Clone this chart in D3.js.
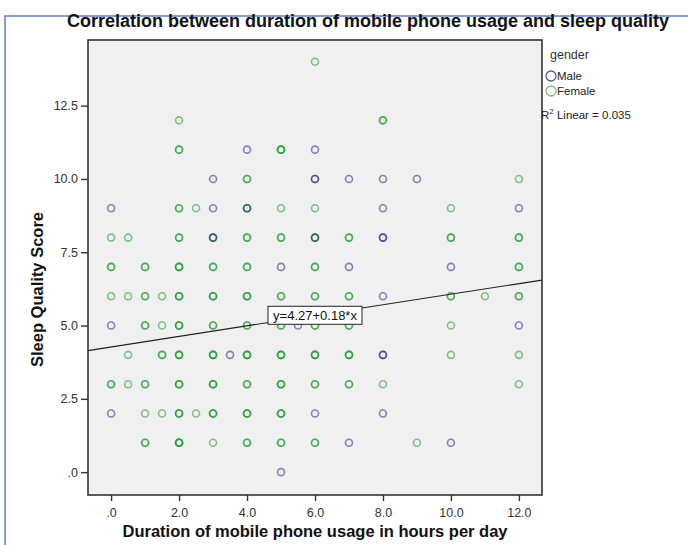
<!DOCTYPE html>
<html>
<head>
<meta charset="utf-8">
<script src="https://cdn.jsdelivr.net/npm/d3@7"></script>
<style>
  body { margin: 0; background: #fff; }
  svg { font-family: "Liberation Sans", Arial, sans-serif; }
</style>
</head>
<body>
<svg id="chart" width="688" height="545"></svg>
<script>
// --- data (repeated points = overlapping cases) ---
const maleX = [0, 0, 0, 3, 3, 3, 3.5, 4, 4, 5, 5, 5.5, 6, 6, 6, 6, 6, 7, 7, 7, 8, 8, 8, 8, 8, 8, 8, 8, 9, 10, 10, 12, 12];
const maleY = [9, 5, 2, 10, 9, 8, 4, 11, 9, 7, 0, 5, 11, 10, 10, 8, 2, 10, 7, 1, 10, 9, 8, 8, 6, 4, 4, 2, 10, 7, 1, 9, 5];

const femaleX = [
  0, 0, 0, 0, 0, 0,
  0.5, 0.5, 0.5, 0.5,
  1, 1, 1, 1, 1, 1, 1, 1, 1, 1, 1,
  1.5, 1.5, 1.5, 1.5, 1.5,
  2, 2, 2, 2, 2, 2, 2, 2, 2, 2, 2, 2, 2, 2, 2, 2, 2, 2, 2, 2, 2, 2, 2, 2, 2, 2, 2, 2, 2,
  2.5, 2.5,
  3, 3, 3, 3, 3, 3, 3, 3, 3, 3, 3, 3, 3, 3, 3, 3, 3, 3, 3,
  4, 4, 4, 4, 4, 4, 4, 4, 4, 4, 4, 4, 4, 4, 4, 4, 4, 4, 4, 4, 4, 4, 4,
  5, 5, 5, 5, 5, 5, 5, 5, 5, 5, 5, 5, 5, 5, 5, 5, 5, 5, 5, 5, 5,
  6, 6, 6, 6, 6, 6, 6, 6, 6, 6, 6, 6, 6, 6, 6, 6, 6,
  7, 7, 7, 7, 7, 7, 7, 7, 7, 7, 7,
  8, 8, 8,
  9,
  10, 10, 10, 10, 10, 10, 10,
  11,
  12, 12, 12, 12, 12, 12, 12, 12, 12
];
const femaleY = [
  8, 7, 7, 6, 3, 3,
  8, 6, 4, 3,
  7, 7, 6, 6, 5, 5, 3, 3, 2, 1, 1,
  6, 5, 4, 4, 2,
  12, 11, 11, 9, 9, 8, 8, 7, 7, 7, 6, 6, 6, 5, 5, 5, 4, 4, 4, 3, 3, 3, 2, 2, 2, 1, 1, 1, 1,
  9, 2,
  8, 8, 7, 7, 6, 6, 6, 5, 5, 4, 4, 4, 3, 3, 3, 2, 2, 2, 1,
  10, 10, 9, 9, 8, 8, 7, 7, 6, 6, 6, 5, 5, 4, 4, 4, 3, 3, 2, 2, 2, 1, 1,
  11, 11, 11, 9, 8, 8, 6, 6, 5, 5, 4, 4, 4, 3, 3, 3, 2, 2, 2, 1, 1,
  14, 9, 8, 8, 7, 7, 6, 6, 5, 5, 4, 4, 4, 3, 3, 1, 1,
  8, 8, 6, 6, 5, 5, 4, 4, 4, 3, 3,
  12, 12, 3,
  1,
  9, 8, 8, 6, 6, 5, 4,
  6,
  10, 8, 8, 7, 7, 6, 6, 4, 3
];

const fit = { a: 4.27, b: 0.18, r2: 0.035 };
const xTicks = [0, 2, 4, 6, 8, 10, 12];
const yTicks = [0, 2.5, 5, 7.5, 10, 12.5];
const genders = ["Male", "Female"];

const male = maleX.map((x, i) => ({ x, y: maleY[i] }));
const female = femaleX.map((x, i) => ({ x, y: femaleY[i] }));

const svg = d3.select("#chart");
const colMale = "#26268a", colFemale = "#1e9a2e";

// outer blue frame
svg.append("rect").attr("x", 5).attr("y", 16).attr("width", 700).attr("height", 560)
  .attr("fill", "none").attr("stroke", "#5b80c8").attr("stroke-width", 1.5);

const plot = { left: 88, right: 542, top: 40, bottom: 495 };
const x = d3.scaleLinear().domain([-0.68, 12.68]).range([plot.left, plot.right]);
const y = d3.scaleLinear().domain([-0.78, 14.74]).range([plot.bottom, plot.top]);

// title
svg.append("text").attr("x", 368).attr("y", 27).attr("text-anchor", "middle")
  .attr("font-size", 18).attr("font-weight", "bold").attr("fill", "#111")
  .text("Correlation between duration of mobile phone usage and sleep quality");

// plot background
svg.append("rect").attr("x", plot.left).attr("y", plot.top)
  .attr("width", plot.right - plot.left).attr("height", plot.bottom - plot.top)
  .attr("fill", "#f0f0f0");

const g = svg.append("g");

// points
function drawPts(pts, col) {
  g.selectAll(null).data(pts).join("circle")
    .attr("cx", d => x(d.x)).attr("cy", d => y(d.y)).attr("r", 3.5)
    .attr("fill", "none").attr("stroke", col).attr("stroke-width", 1.6)
    .attr("stroke-opacity", 0.55);
}
drawPts(female, colFemale);
drawPts(male, colMale);

// regression line
const [x0, x1] = x.domain();
g.append("line")
  .attr("x1", x(x0)).attr("y1", y(fit.a + fit.b * x0))
  .attr("x2", x(x1)).attr("y2", y(fit.a + fit.b * x1))
  .attr("stroke", "#222").attr("stroke-width", 1.2);

// equation label
const lab = g.append("g").attr("transform", `translate(${x(6)},${y(fit.a + fit.b * 6)})`);
lab.append("rect").attr("x", -47).attr("y", -9).attr("width", 94).attr("height", 18)
  .attr("fill", "#fff").attr("stroke", "#222").attr("stroke-width", 1);
lab.append("text").attr("x", 0).attr("y", 4.5).attr("text-anchor", "middle")
  .attr("font-size", 13).attr("fill", "#111")
  .text(`y=${fit.a}+${fit.b}*x`);

// frame
svg.append("rect").attr("x", plot.left).attr("y", plot.top)
  .attr("width", plot.right - plot.left).attr("height", plot.bottom - plot.top)
  .attr("fill", "none").attr("stroke", "#333").attr("stroke-width", 1.6);

// axes
const fmt = v => { const s = d3.format(".1f")(v); return s.startsWith("0") ? s.slice(1) : s; };
const ax = svg.append("g").attr("transform", `translate(0,${plot.bottom})`)
  .call(d3.axisBottom(x).tickValues(xTicks).tickFormat(fmt).tickSize(6).tickSizeOuter(0));
const ay = svg.append("g").attr("transform", `translate(${plot.left},0)`)
  .call(d3.axisLeft(y).tickValues(yTicks).tickFormat(fmt).tickSize(7).tickSizeOuter(0));
[ax, ay].forEach(a => {
  a.select(".domain").remove();
  a.selectAll("line").attr("stroke", "#333").attr("stroke-width", 1.4);
  a.selectAll("text").attr("font-size", 12.5).attr("fill", "#333")
    .attr("font-family", "'Liberation Sans', Arial, sans-serif");
});
ax.selectAll("text").attr("dy", "1.05em");

// axis titles
svg.append("text").attr("x", (plot.left + plot.right) / 2).attr("y", 537)
  .attr("text-anchor", "middle").attr("font-size", 16.5).attr("font-weight", "bold").attr("fill", "#111")
  .text("Duration of mobile phone usage in hours per day");
svg.append("text").attr("transform", `translate(43,${(plot.top + plot.bottom) / 2 + 22}) rotate(-90)`)
  .attr("text-anchor", "middle").attr("font-size", 16.5).attr("font-weight", "bold").attr("fill", "#111")
  .text("Sleep Quality Score");

// legend
const leg = svg.append("g").attr("transform", "translate(546,0)");
leg.append("text").attr("x", 4).attr("y", 59).attr("font-size", 12.5).attr("fill", "#333").text("gender");
const legCols = ["#4c5c90", "#7dbd7d"];
genders.forEach((k, i) => {
  leg.append("circle").attr("cx", 5).attr("cy", 76 + i * 15).attr("r", 5)
    .attr("fill", "none").attr("stroke", legCols[i]).attr("stroke-width", 1.3);
  leg.append("text").attr("x", 11).attr("y", 80 + i * 15).attr("font-size", 11.5).attr("fill", "#222").text(k);
});
const r2 = leg.append("text").attr("x", -5).attr("y", 119).attr("font-size", 11.5).attr("fill", "#222");
r2.append("tspan").text("R");
r2.append("tspan").attr("dy", -5).attr("font-size", 8).text("2");
r2.append("tspan").attr("dy", 5).text(` Linear = ${fit.r2}`);
</script>
</body>
</html>
